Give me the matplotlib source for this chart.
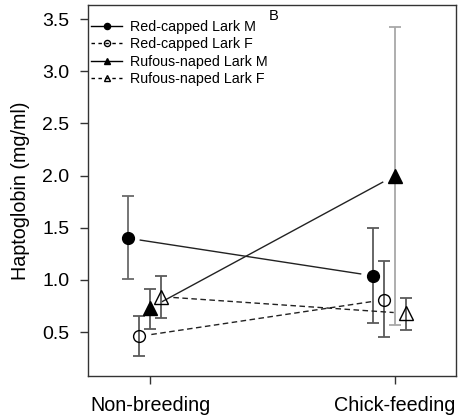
import numpy as np
import matplotlib
matplotlib.use('Agg')
import matplotlib.pyplot as plt
from matplotlib.lines import Line2D

plt.rcParams['font.family'] = ['Liberation Sans', 'DejaVu Sans']

# dane
okresy = ['Non-breeding', 'Chick-feeding']
serie = ['Red-capped Lark M', 'Red-capped Lark F', 'Rufous-naped Lark M', 'Rufous-naped Lark F']
srednie = [[1.40, 1.04],
           [0.46, 0.81],
           [0.73, 2.00],
           [0.84, 0.68]]
gora = [[1.80, 1.50],
        [0.65, 1.18],
        [0.91, 3.42],
        [1.04, 0.83]]
dol = [[1.01, 0.59],
       [0.27, 0.45],
       [0.53, 0.57],
       [0.64, 0.52]]

przesuniecia = [-0.09, -0.045, 0.0, 0.045]
markery = ['o', 'o', '^', '^']
wypelnienie = ['black', 'none', 'black', 'none']
style = ['-', '--', '-', '--']
rozmiary = [8.5, 8.5, 9.5, 9.5]
kolory_bledow = [['#6a6a6a', '#5a5a5a'], ['#5a5a5a', '#5a5a5a'],
                 ['#5a5a5a', '#a8a8a8'], ['#5a5a5a', '#5a5a5a']]

fig = plt.figure(figsize=(4.64, 4.18), dpi=100)
ax = fig.add_axes([0.19, 0.1, 0.793, 0.888])

x = np.arange(1, len(okresy) + 1)
for i in range(len(serie)):
    xs = x + przesuniecia[i]
    ys = np.array(srednie[i])
    # linia skrocona zeby nie wchodzila w markery
    k = 0.05
    ax.plot([xs[0] + k * (xs[1] - xs[0]), xs[1] - k * (xs[1] - xs[0])],
            [ys[0] + k * (ys[1] - ys[0]), ys[1] - k * (ys[1] - ys[0])],
            color='#222222', ls=style[i], lw=1.0, dashes=(4, 2.5) if style[i] == '--' else (None, None))
    for j in range(len(okresy)):
        ax.errorbar(xs[j], ys[j],
                    yerr=[[ys[j] - dol[i][j]], [gora[i][j] - ys[j]]],
                    fmt='none', ecolor=kolory_bledow[i][j], elinewidth=1.3, capsize=4.5, capthick=1.3)
    ax.plot(xs, ys, ls='none', marker=markery[i], ms=rozmiary[i],
            markerfacecolor=wypelnienie[i], markeredgecolor='black', markeredgewidth=1.0)

ax.set_xlim(0.747, 2.25)
ax.set_ylim(0.078, 3.634)
ax.set_xticks(x)
ax.set_xticklabels(okresy, fontsize=14.2)
ax.set_yticks([0.5, 1.0, 1.5, 2.0, 2.5, 3.0, 3.5])
ax.set_yticklabels(['0.5', '1.0', '1.5', '2.0', '2.5', '3.0', '3.5'], fontsize=14)
ax.tick_params(direction='out', length=5.5, width=1, color='#333333')
ax.tick_params(axis='y', pad=8)
ax.tick_params(axis='x', pad=9)
ax.set_ylabel('Haptoglobin (mg/ml)', fontsize=14.2, labelpad=9)
for s in ax.spines.values():
    s.set_color('#333333')
    s.set_linewidth(1.0)

uchwyty = [Line2D([0], [0], color='black', ls=style[i], lw=1.0, marker=markery[i],
                  markerfacecolor=wypelnienie[i], markeredgecolor='black', ms=rozmiary[i] * 0.52,
                  dashes=(2.5, 2.5) if style[i] == '--' else (None, None))
           for i in range(len(serie))]
ax.legend(uchwyty, serie, loc='upper left', bbox_to_anchor=(0.0, 0.968), frameon=False,
          fontsize=10.3, handlelength=2.2, handletextpad=0.55, labelspacing=0.24,
          borderaxespad=0.1, borderpad=0.1)
ax.text(0.505, 0.97, 'B', transform=ax.transAxes, fontsize=10.5, ha='center', va='center')

fig.savefig('out.png', dpi=100)
